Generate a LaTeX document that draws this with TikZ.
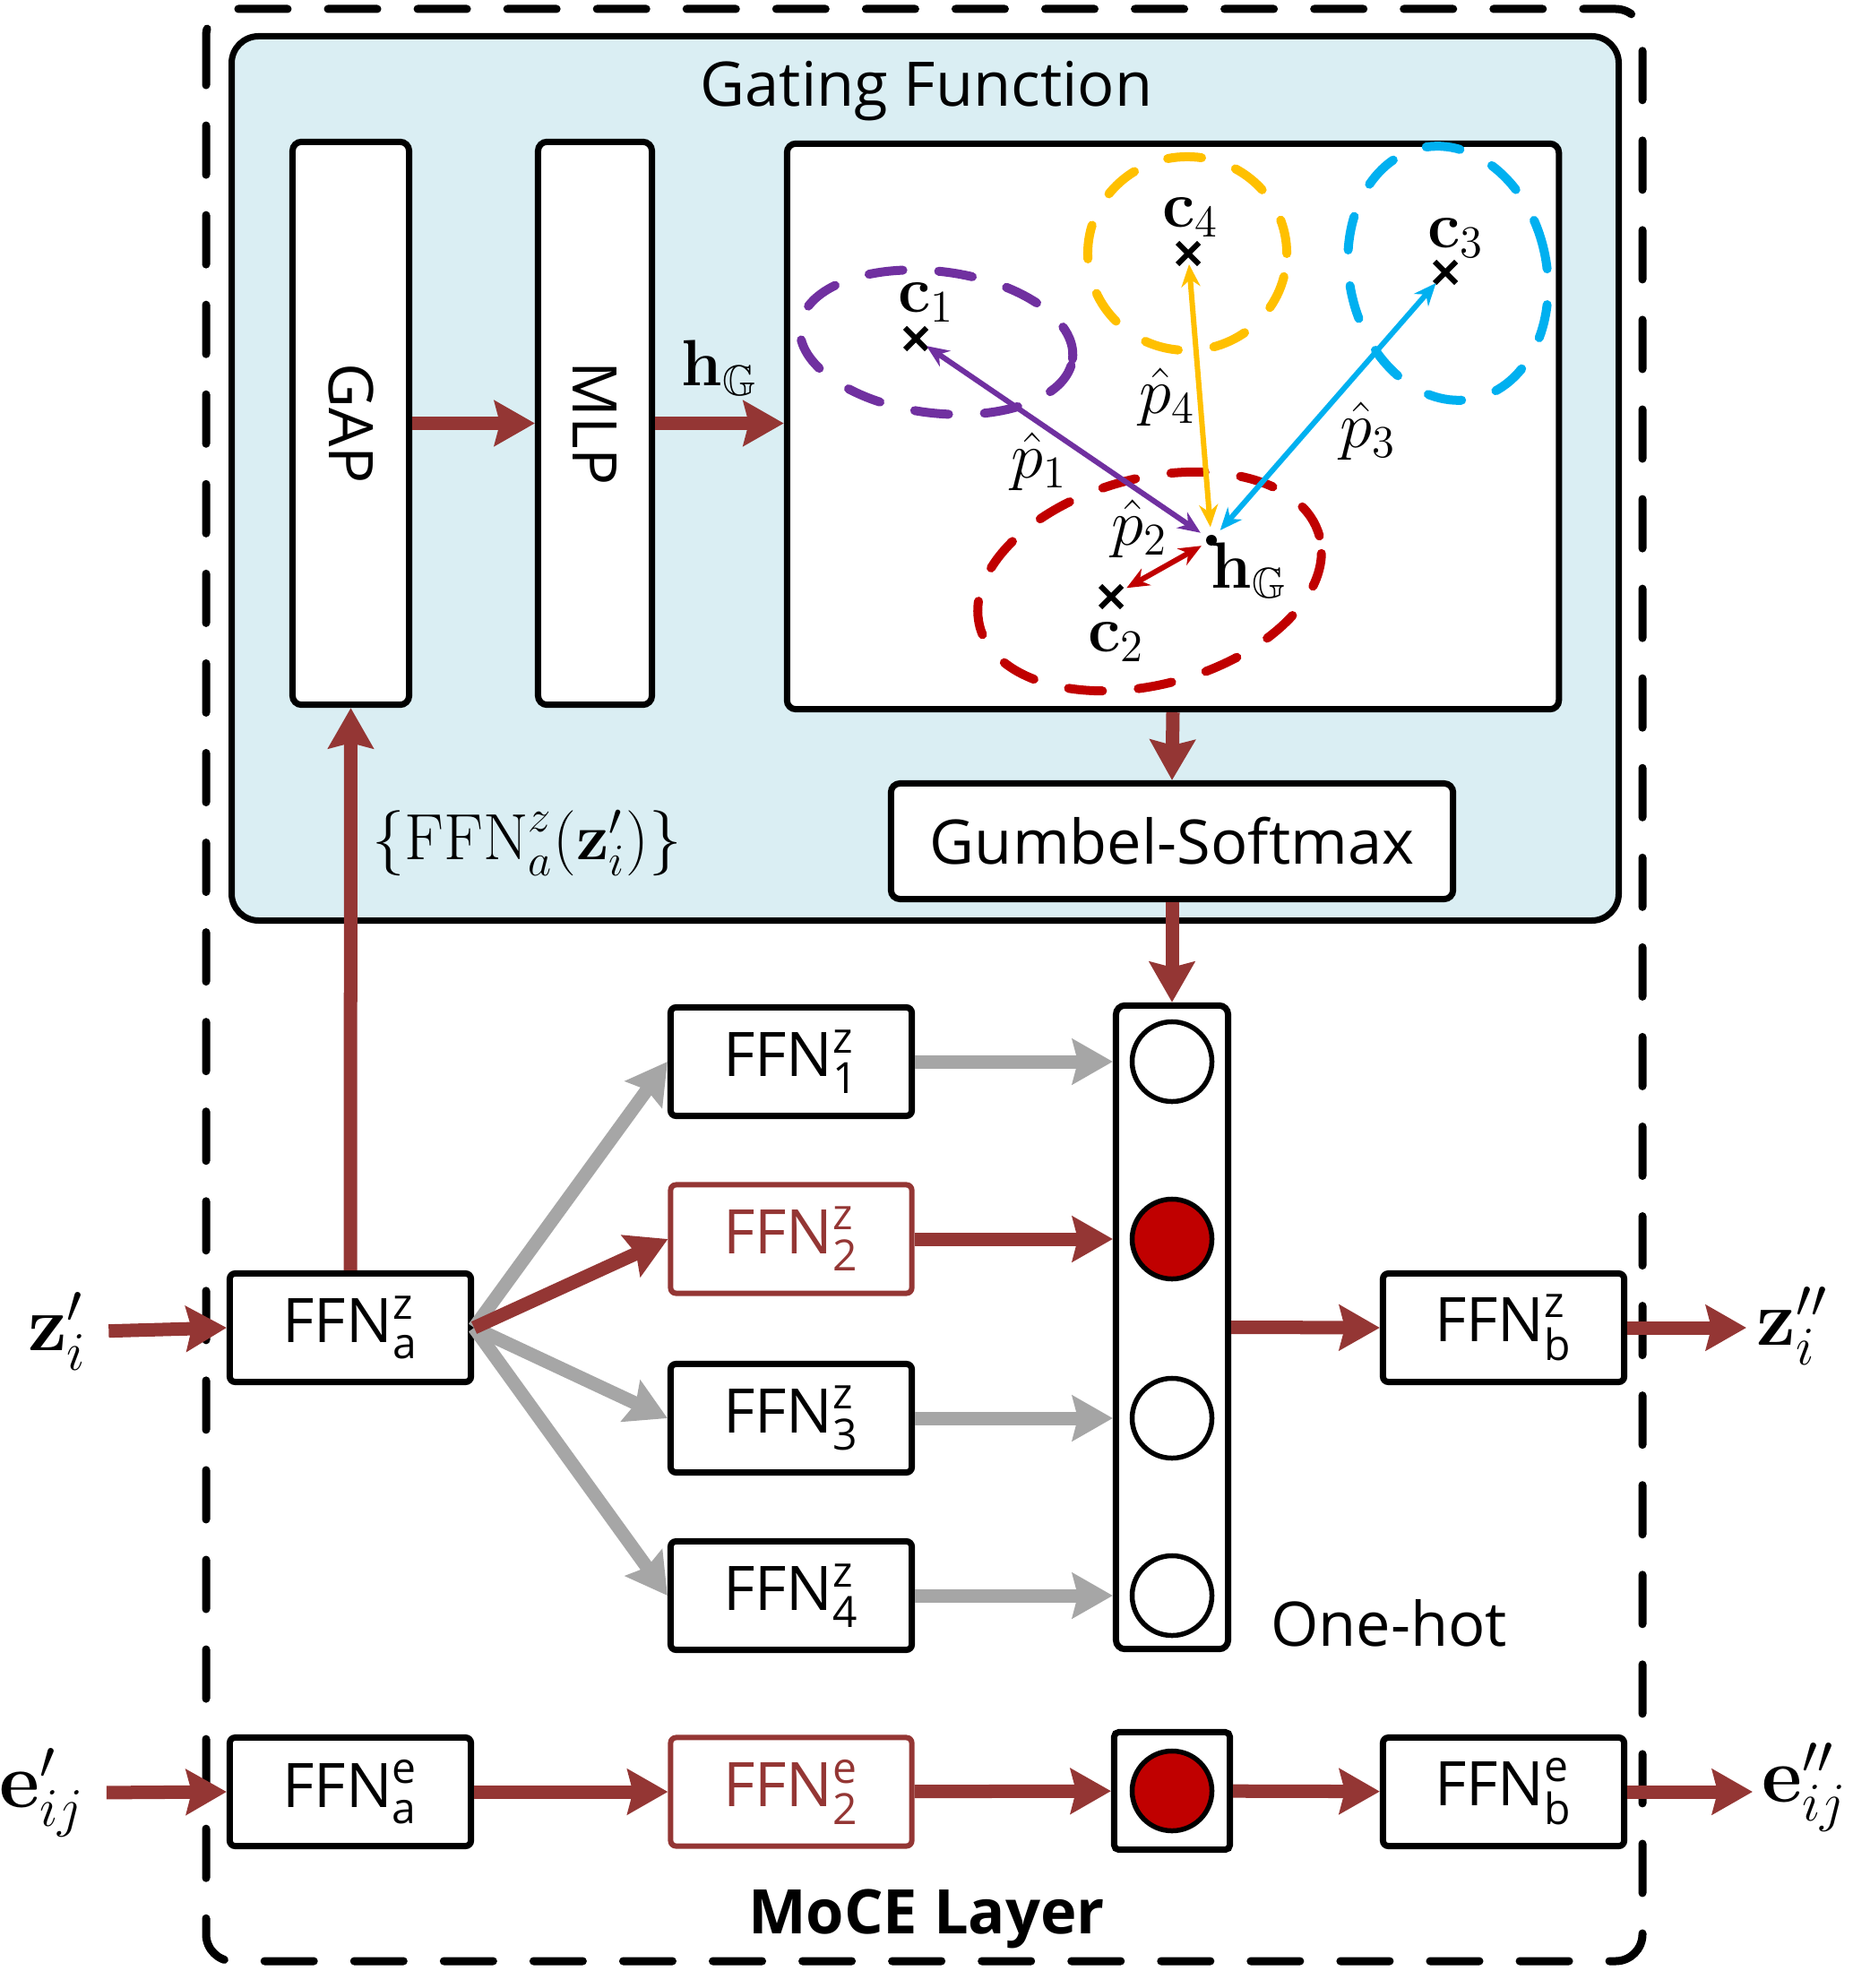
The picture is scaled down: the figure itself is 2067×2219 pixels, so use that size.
\documentclass[tikz,border=0pt]{standalone}
\usepackage{amsmath,amssymb}
\usepackage[no-math]{fontspec}
\setmainfont{Open Sans}
\usetikzlibrary{arrows.meta}
\usetikzlibrary{shapes.misc}
\definecolor{arrowred}{HTML}{943634}
\definecolor{panelblue}{HTML}{DAEEF3}
\definecolor{hotred}{HTML}{C00000}
\definecolor{fangray}{HTML}{A6A6A6}
\definecolor{clpurple}{HTML}{7030A0}
\definecolor{clyellow}{HTML}{FFC000}
\definecolor{clcyan}{HTML}{00B0F0}

\begin{document}
\begin{tikzpicture}[x=0.01cm, y=-0.01cm,
    every node/.style={font=\fontsize{19.5}{23}\selectfont},
    ffnbox/.style={draw, line width=0.07cm, rounded corners=0.06cm, fill=white, minimum width=2.69cm, minimum height=1.21cm, inner sep=0},
    ffnred/.style={ffnbox, draw=arrowred, text=arrowred, line width=0.06cm},
    tallbox/.style={draw, line width=0.07cm, rounded corners=0.1cm, fill=white, minimum width=1.30cm, minimum height=6.28cm},
    hotdot/.style={circle, draw, line width=0.055cm, minimum size=0.89cm, inner sep=0},
    redflow/.style={draw=arrowred, line width=0.15cm, -{Stealth[length=0.45cm, width=0.5cm, inset=0.06cm]}},
    grayflow/.style={redflow, draw=fangray},
    cluster/.style={dash pattern=on 0.38cm off 0.4cm, line width=0.1cm, line cap=round},
    pull/.style={line width=0.06cm, {Stealth[length=0.25cm, width=0.21cm]}-{Stealth[length=0.25cm, width=0.21cm]}},
    centre/.style={cross out, draw, line width=0.06cm, minimum size=0.18cm, inner sep=0}
]
    \useasboundingbox (0,0) rectangle (2067,2219);

    % Draw the MoCE layer frame and the gating panel
    \draw[line width=0.09cm, dash pattern=on 0.55cm off 0.45cm, line cap=round, rounded corners=0.3cm] (230,10) rectangle (1833,2189);
    \draw[line width=0.07cm, fill=panelblue, rounded corners=0.3cm] (258.5,40.5) rectangle (1806.5,1027.5);
    \node (gftitle) at (1034,102) {Gating Function};

    % GAP, MLP and the cluster view
    \node[tallbox] (gap) at (391.5,472.5) {};
    \node[rotate=-90] (gaptxt) at (gap) {GAP};
    \node[tallbox, minimum width=1.27cm] (mlp) at (664,472.5) {};
    \node[rotate=-90] (mlptxt) at (mlp) {MLP};
    \node[draw, line width=0.07cm, rounded corners=0.1cm, fill=white, minimum width=8.61cm, minimum height=6.31cm] (clu) at (1309,476) {};
    \node[draw, line width=0.07cm, rounded corners=0.1cm, fill=white, minimum width=6.27cm, minimum height=1.29cm] (gum) at (1308,939) {Gumbel-Softmax};

    % Draw the four clusters
    \draw[cluster, clpurple, rotate around={-7:(1045,382)}] (1045,382) ellipse [x radius=1.53cm, y radius=0.79cm];
    \draw[cluster, clyellow] (1325,283) ellipse [x radius=1.11cm, y radius=1.08cm];
    \draw[cluster, clcyan, rotate around={12:(1616,305)}] (1616,305) ellipse [x radius=1.10cm, y radius=1.43cm];
    \draw[cluster, hotred, rotate around={15:(1283,649)}] (1283,649) ellipse [x radius=1.96cm, y radius=1.15cm];

    % Centres and the graph embedding
    \node[centre] (c1) at (1022,378) {};
    \node[centre] (c2) at (1240,666) {};
    \node[centre] (c3) at (1613,304) {};
    \node[centre] (c4) at (1326,283) {};
    \node (c1txt) at (1034,338) {$\mathbf{c}_1$};
    \node (c2txt) at (1246,717) {$\mathbf{c}_2$};
    \node (c3txt) at (1625,266) {$\mathbf{c}_3$};
    \node (c4txt) at (1329,243) {$\mathbf{c}_4$};
    \node[circle, fill, inner sep=0, minimum size=0.12cm] (hg) at (1352,603) {};
    \node (hgtxt) at (1394,637) {$\mathbf{h}_{\mathbb{G}}$};

    % Distances to the centres
    \draw[pull, clpurple, shorten >=0.08cm] (c1) -- (hg);
    \draw[pull, clyellow, shorten >=0.08cm] (c4) -- (hg);
    \draw[pull, clcyan, shorten >=0.08cm] (c3) -- (hg);
    \draw[pull, hotred, shorten <=0.06cm, shorten >=0.06cm] (c2) -- (hg);
    \node (p1) at (1160,515) {$\hat{p}_1$};
    \node (p2) at (1272,590) {$\hat{p}_2$};
    \node (p3) at (1527,481) {$\hat{p}_3$};
    \node (p4) at (1303,443) {$\hat{p}_4$};

    % Experts and the one-hot selection
    \node[ffnbox] (fza) at (391,1482) {FFN$^{\text{z}}_{\text{a}}$};
    \foreach \k/\y/\s in {1/1185/ffnbox, 2/1383/ffnred, 3/1583/ffnbox, 4/1781/ffnbox}
        \node[\s] (fz\k) at (883,\y) {FFN$^{\text{z}}_{\text{\k}}$};
    \node[ffnbox] (fzb) at (1678,1482) {FFN$^{\text{z}}_{\text{b}}$};
    \node[draw, line width=0.07cm, rounded corners=0.1cm, minimum width=1.25cm, minimum height=7.18cm] (col) at (1308,1481.5) {};
    \foreach \k/\y/\f in {1/1185/white, 2/1383/hotred, 3/1583/white, 4/1781/white}
        \node[hotdot, fill=\f] (dot\k) at (1308,\y) {};
    \node (onehot) at (1550,1812) {One-hot};

    % Edge branch
    \node[ffnbox] (fea) at (391,2000) {FFN$^{\text{e}}_{\text{a}}$};
    \node[ffnred] (fe2) at (883,2000) {FFN$^{\text{e}}_{\text{2}}$};
    \node[draw, line width=0.07cm, rounded corners=0.05cm, minimum width=1.29cm, minimum height=1.31cm] (ebox) at (1308,1999) {};
    \node[hotdot, fill=hotred] (edot) at (ebox) {};
    \node[ffnbox] (feb) at (1678,2000) {FFN$^{\text{e}}_{\text{b}}$};

    % Inputs and outputs
    \node[font=\fontsize{24}{28}\selectfont] (zin) at (64,1486) {$\mathbf{z}_i^{\prime}$};
    \node[font=\fontsize{24}{28}\selectfont] (zout) at (2000,1480) {$\mathbf{z}_i^{\prime\prime}$};
    \node[font=\fontsize{24}{28}\selectfont] (ein) at (47,2001) {$\mathbf{e}_{ij}^{\prime}$};
    \node[font=\fontsize{24}{28}\selectfont] (eout) at (2014,1995) {$\mathbf{e}_{ij}^{\prime\prime}$};
    \coordinate (zend) at (1949,1482);
    \coordinate (eend) at (1956,2000);
    \node[font=\fontsize{19.5}{23}\selectfont\bfseries] (moce) at (1034,2142) {MoCE Layer};

    % Draw the arrows
    \draw[redflow] (gap) -- (mlp);
    \draw[redflow] (mlp.east) -- (mlp.east -| clu.west) node[midway, above=0.12cm] (hglab) {$\mathbf{h}_{\mathbb{G}}$};
    \draw[redflow] (clu.south) -- (gum.north);
    \draw[redflow] (gum.south) -- (col.north);
    \draw[redflow] (fza.north) -- (gap.south);
    \node (ffnset) at (588,941) {$\{\mathrm{FFN}^{z}_{a}(\mathbf{z}^{\prime}_{i})\}$};
    \foreach \k in {1,3,4} {
        \draw[grayflow] (fza.east) -- (fz\k.west);
        \draw[grayflow] (fz\k.east) -- (fz\k.east -| col.west);
    }
    \draw[redflow] (fza.east) -- (fz2.west);
    \draw[redflow] (fz2.east) -- (fz2.east -| col.west);
    \draw[redflow] (col.east) -- (fzb.west);
    \draw[redflow] (fzb.east) -- (zend);
    \draw[redflow, shorten <=0.12cm] (zin.east) -- (fza.west);
    \draw[redflow, shorten <=0.12cm] (ein.east) -- (fea.west);
    \draw[redflow] (fea) -- (fe2);
    \draw[redflow] (fe2) -- (ebox);
    \draw[redflow] (ebox) -- (feb);
    \draw[redflow] (feb.east) -- (eend);
\end{tikzpicture}
\end{document}
